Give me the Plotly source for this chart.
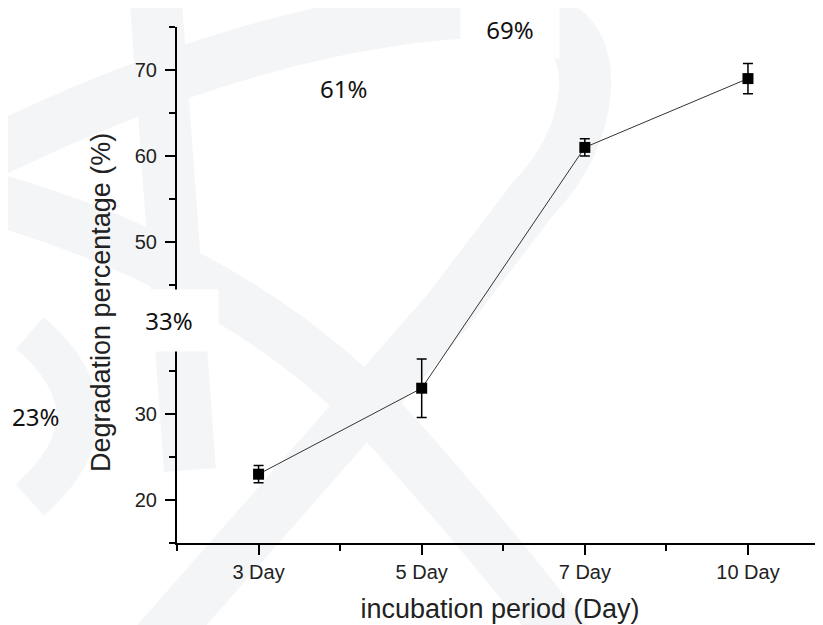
import plotly.graph_objects as go

# ---- data ----
days = ["3 Day", "5 Day", "7 Day", "10 Day"]
degradation = [23, 33, 61, 69]
error = [1.0, 3.4, 1.0, 1.75]
percent_labels = ["23%", "33%", "61%", "69%"]
y_ticks = [20, 30, 40, 50, 60, 70]
# "40" is hidden under the white "33%" box in the reference
y_tick_text = ["20", "30", "", "50", "60", "70"]

# page body has an 8px margin -> figure starts at (8, 8)
OFF = 8
W, H = 823 - OFF, 625 - OFF
PL, PT, PB, PR = 177, 27, 543, 823          # plot area in page pixels
ML, MT, MR = PL - OFF, PT - OFF, 0
MB = (H + OFF) - PB
PW, PH = PR - PL, PB - PT


def px(x, y):
    """page pixel position -> paper coordinates"""
    return (x - PL) / PW, (PB - y) / PH


def path(cmds):
    out = []
    for c in cmds:
        if isinstance(c, str):
            out.append(c)
        else:
            a, b = px(*c)
            out.append(f"{a:.4f},{b:.4f}")
    return " ".join(out)


x_pos = list(range(len(days)))

fig = go.Figure(
    go.Scatter(
        x=x_pos,
        y=degradation,
        mode="lines+markers",
        line=dict(color="#333333", width=1),
        marker=dict(symbol="square", size=11, color="black"),
        error_y=dict(type="data", array=error, color="black", thickness=1.5, width=5),
        showlegend=False,
    )
)

wm = "#f4f5f7"
shapes = []
# faint watermark bands
for cmds, w in [
    (["M", (-20, 158), "Q", (250, 25), (470, 12), "Q", (590, 0), (585, 90),
      "Q", (580, 150), (532, 200), "L", (446, 313), "L", (150, 650)], 52),
    (["M", (155, -10), "L", (190, 470)], 52),
    (["M", (-20, 195), "Q", (250, 270), (400, 440), "T", (600, 690)], 52),
    (["M", (30, 333), "Q", (125, 415), (30, 500)], 42),
]:
    shapes.append(dict(type="path", xref="paper", yref="paper", path=path(cmds),
                       line=dict(color=wm, width=w), layer="below"))

annotations = []
# percentage labels (with white boxes like the reference)
label_pos = {"23%": (35, 416, None), "33%": (169, 320, (98, 61)),
             "61%": (343, 88, None), "69%": (510, 29, (98, 58))}
for lab in percent_labels:
    x, y, box = label_pos[lab]
    a, b = px(x, y)
    ann = dict(text=lab, x=a, y=b, xref="paper", yref="paper", showarrow=False,
               xanchor="center", yanchor="middle",
               font=dict(family="Noto Sans", size=24, color="#111111"))
    if box:
        ann.update(bgcolor="white", width=box[0], height=box[1], borderpad=0)
    annotations.append(ann)

ya, yb = px(101, 303)
annotations.append(dict(text="Degradation percentage (%)", x=ya, y=yb, xref="paper",
                        yref="paper", showarrow=False, textangle=-90,
                        xanchor="center", yanchor="middle",
                        font=dict(family="Liberation Sans", size=27, color="#222222")))

axis_common = dict(
    showline=True, linecolor="black", linewidth=2, ticks="outside",
    ticklen=10, tickwidth=2, tickcolor="black", showgrid=False, zeroline=False,
    tickfont=dict(family="Liberation Sans", size=20, color="#222222"),
)

fig.update_layout(
    width=W, height=H,
    margin=dict(l=ML, r=MR, t=MT, b=MB, pad=0),
    paper_bgcolor="white", plot_bgcolor="rgba(0,0,0,0)",
    xaxis=dict(
        **axis_common,
        range=[-0.5, 3.46], tickmode="array", tickvals=x_pos, ticktext=days,
        minor=dict(ticks="outside", tick0=0, dtick=0.5, ticklen=6, tickwidth=2,
                   tickcolor="black"),
        title=dict(text="incubation period (Day)", standoff=17,
                   font=dict(family="Liberation Sans", size=27, color="#222222")),
    ),
    yaxis=dict(
        **axis_common,
        range=[15, 75], tickmode="array", tickvals=y_ticks, ticktext=y_tick_text,
        ticklabelstandoff=4,
        minor=dict(ticks="outside", tick0=15, dtick=5, ticklen=6, tickwidth=2,
                   tickcolor="black"),
    ),
    shapes=shapes,
    annotations=annotations,
)

fig.write_html("out.html")
